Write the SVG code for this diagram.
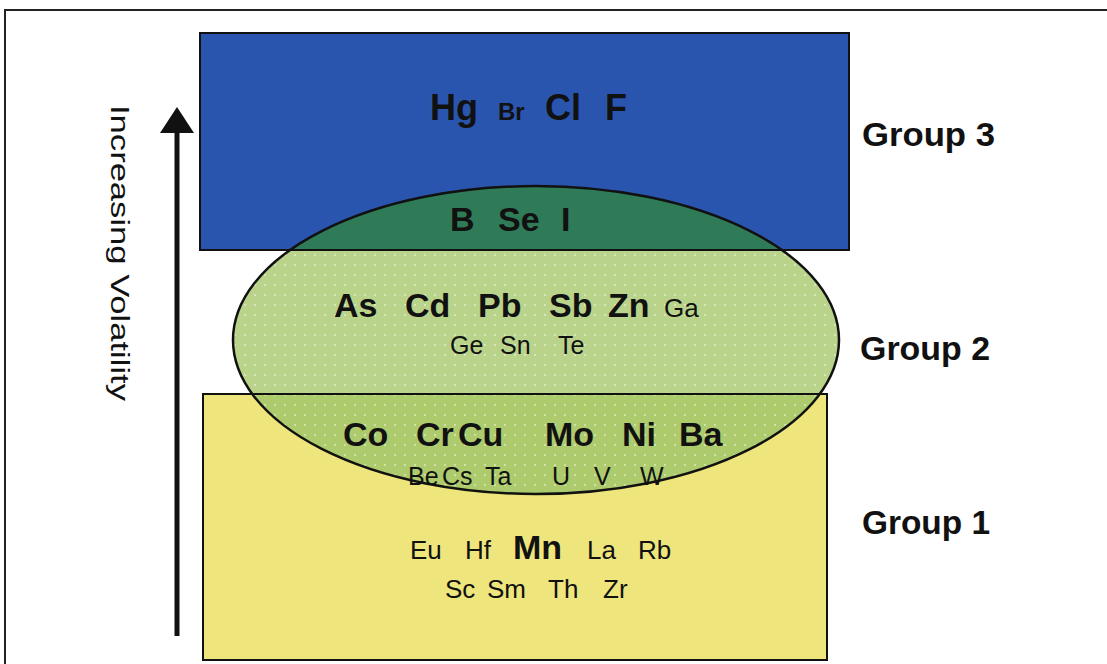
<svg xmlns="http://www.w3.org/2000/svg" width="1107" height="664" viewBox="0 0 1107 664">
  <style>
    .b { font-family: "Liberation Sans", Arial, sans-serif; font-weight: bold; fill: #111; }
    .n { font-family: "Liberation Sans", Arial, sans-serif; font-weight: normal; fill: #111; }
    .edge { stroke: #111; stroke-width: 2; }
  </style>
  <defs>
    <pattern id="dots" x="0" y="0" width="10" height="10" patternUnits="userSpaceOnUse">
      <circle cx="5" cy="5" r="1" fill="#ffffff" fill-opacity="0.55"/>
    </pattern>
    <clipPath id="blueArea"><rect x="200" y="33" width="649" height="217"/></clipPath>
    <clipPath id="yellowArea"><rect x="203" y="394" width="624" height="266"/></clipPath>
    <clipPath id="belowBlue"><rect x="0" y="250" width="1107" height="414"/></clipPath>
  </defs>

  <!-- page frame -->
  <g id="frame" fill="none" stroke="#222" stroke-width="2">
    <line x1="4" y1="10" x2="1107" y2="10"/>
    <line x1="5" y1="10" x2="5" y2="664"/>
  </g>

  <!-- group 3 box -->
  <g id="group3">
    <rect x="200" y="33" width="649" height="217" fill="#2a55ae" class="edge"/>
  </g>

  <!-- group 1 box -->
  <g id="group1">
    <rect x="203" y="394" width="624" height="266" fill="#eee67c" class="edge"/>
  </g>

  <!-- group 2 ellipse, tinted where it overlaps the boxes -->
  <g id="group2">
    <ellipse cx="536" cy="340" rx="303" ry="154" fill="#b9d38b"/>
    <ellipse cx="536" cy="340" rx="303" ry="154" fill="#2f7a57" clip-path="url(#blueArea)"/>
    <ellipse cx="536" cy="340" rx="303" ry="154" fill="#adcb6c" clip-path="url(#yellowArea)"/>
    <ellipse cx="536" cy="340" rx="303" ry="154" fill="url(#dots)" clip-path="url(#belowBlue)"/>
    <line x1="200" y1="250" x2="849" y2="250" class="edge"/>
    <line x1="203" y1="394" x2="827" y2="394" class="edge"/>
    <ellipse cx="536" cy="340" rx="303" ry="154" fill="none" stroke="#111" stroke-width="2.5"/>
  </g>

  <!-- volatility axis -->
  <g id="connectors">
    <line x1="177" y1="128" x2="177" y2="636" stroke="#111" stroke-width="5"/>
    <polygon points="177,107 160,133 194,133" fill="#111"/>
  </g>
  <g id="axis-label">
    <text class="n" font-size="26" transform="translate(111,105) rotate(90)" textLength="296" lengthAdjust="spacingAndGlyphs">Increasing Volatility</text>
  </g>

  <!-- most volatile elements -->
  <g id="labels3">
    <text x="430" y="120" class="b" font-size="36">Hg</text>
    <text x="498" y="120" class="b" font-size="24">Br</text>
    <text x="545" y="120" class="b" font-size="36">Cl</text>
    <text x="605" y="120" class="b" font-size="36">F</text>
  </g>
  <g id="labels23">
    <text x="450" y="231" class="b" font-size="34">B</text>
    <text x="498" y="231" class="b" font-size="34">Se</text>
    <text x="561" y="231" class="b" font-size="34">I</text>
  </g>
  <!-- intermediate elements -->
  <g id="labels2">
    <text x="334" y="317" class="b" font-size="34">As</text>
    <text x="405" y="317" class="b" font-size="34">Cd</text>
    <text x="478" y="317" class="b" font-size="34">Pb</text>
    <text x="549" y="317" class="b" font-size="34">Sb</text>
    <text x="608" y="317" class="b" font-size="34">Zn</text>
    <text x="664" y="317" class="n" font-size="26">Ga</text>
    <text x="450" y="354" class="n" font-size="25">Ge</text>
    <text x="500" y="354" class="n" font-size="25">Sn</text>
    <text x="558" y="354" class="n" font-size="25">Te</text>
  </g>
  <g id="labels12">
    <text x="343" y="446" class="b" font-size="34">Co</text>
    <text x="416" y="446" class="b" font-size="34">Cr</text>
    <text x="458" y="446" class="b" font-size="34">Cu</text>
    <text x="545" y="446" class="b" font-size="34">Mo</text>
    <text x="622" y="446" class="b" font-size="34">Ni</text>
    <text x="679" y="446" class="b" font-size="34">Ba</text>
    <text x="408" y="485" class="n" font-size="25">Be</text>
    <text x="442" y="485" class="n" font-size="25">Cs</text>
    <text x="485" y="485" class="n" font-size="25">Ta</text>
    <text x="552" y="485" class="n" font-size="25">U</text>
    <text x="594" y="485" class="n" font-size="25">V</text>
    <text x="640" y="485" class="n" font-size="25">W</text>
  </g>
  <!-- least volatile elements -->
  <g id="labels1">
    <text x="410" y="559" class="n" font-size="26">Eu</text>
    <text x="465" y="559" class="n" font-size="26">Hf</text>
    <text x="513" y="559" class="b" font-size="34">Mn</text>
    <text x="587" y="559" class="n" font-size="26">La</text>
    <text x="638" y="559" class="n" font-size="26">Rb</text>
    <text x="445" y="598" class="n" font-size="26">Sc</text>
    <text x="487" y="598" class="n" font-size="26">Sm</text>
    <text x="548" y="598" class="n" font-size="26">Th</text>
    <text x="603" y="598" class="n" font-size="26">Zr</text>
  </g>

  <!-- group names -->
  <g id="group-names">
    <text x="862" y="146" class="b" font-size="34" textLength="133" lengthAdjust="spacingAndGlyphs">Group 3</text>
    <text x="860" y="360" class="b" font-size="34" textLength="130" lengthAdjust="spacingAndGlyphs">Group 2</text>
    <text x="862" y="534" class="b" font-size="34" textLength="128" lengthAdjust="spacingAndGlyphs">Group 1</text>
  </g>
</svg>
